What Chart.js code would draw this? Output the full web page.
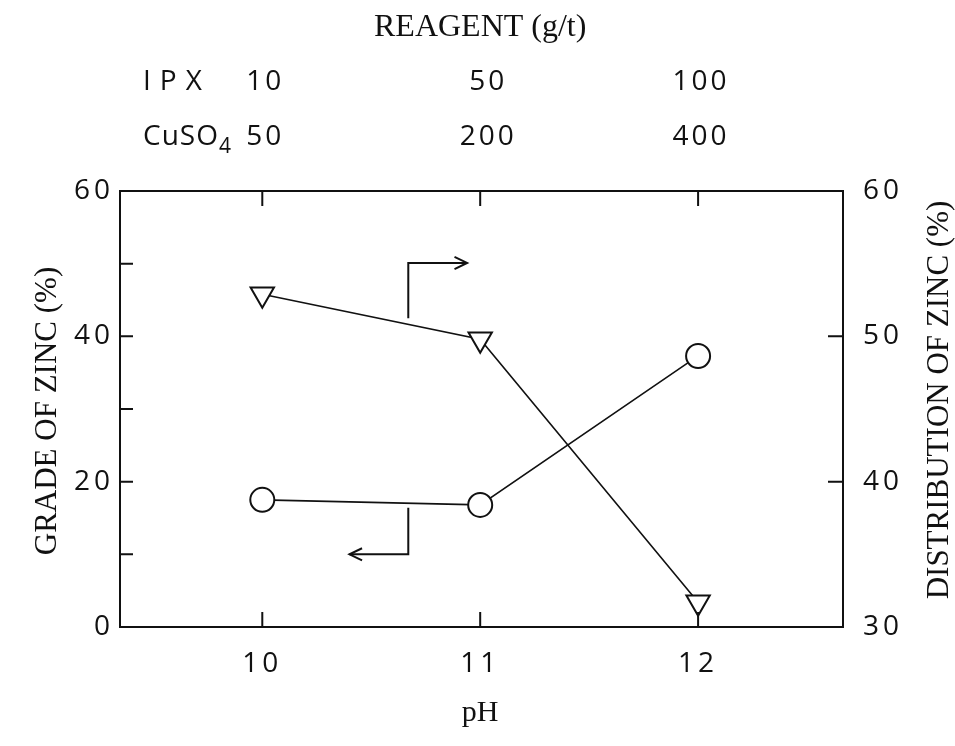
<!DOCTYPE html>
<html>
<head>
<meta charset="utf-8">
<script src="https://cdn.jsdelivr.net/npm/chart.js@4/dist/chart.umd.min.js"></script>
<style>
  html, body { margin: 0; padding: 0; background: #fff; }
  #wrap { width: 955px; height: 746px; }
</style>
</head>
<body>
<div id="wrap"><canvas id="zincChart"></canvas></div>
<script>
const phValues = [10, 11, 12];
const zincGrade = [17.5, 16.8, 37.3];          // left axis, %
const zincDistribution = [52.9, 49.8, 31.7];   // right axis, %
const ipxDose = ['10', '50', '100'];
const cuso4Dose = ['50', '200', '400'];
const gradeMinorTicks = [10, 20, 30, 40, 50];
const distMinorTicks = [40, 50];
// little pointers telling which axis a curve belongs to (pH, grade units)
const arrowUpX = [10.67, 10.67, 10.94];
const arrowUpY = [42.5, 50.1, 50.1];
const arrowDownX = [10.67, 10.67, 10.40];
const arrowDownY = [16.4, 10.0, 10.0];

const INK = '#111';
const SANS = '"Open Sans", "DejaVu Sans", sans-serif';
const SERIF = '"Liberation Serif", "DejaVu Serif", serif';

function pts(xs, ys) {
  return xs.map((x, i) => ({ x: x, y: ys[i] }));
}

const paperMarks = {
  id: 'paperMarks',
  beforeDraw(chart) {
    chart.ctx.letterSpacing = '4px';
  },
  afterDraw(chart) {
    const { ctx, chartArea: a, scales } = chart;
    ctx.save();
    ctx.letterSpacing = '0px';

    // inward tick marks
    ctx.strokeStyle = INK;
    ctx.lineWidth = 2;
    ctx.beginPath();
    gradeMinorTicks.forEach(v => {
      const y = scales.y.getPixelForValue(v);
      ctx.moveTo(a.left, y); ctx.lineTo(a.left + 13, y);
    });
    distMinorTicks.forEach(v => {
      const y = scales.y2.getPixelForValue(v);
      ctx.moveTo(a.right, y); ctx.lineTo(a.right - 15, y);
    });
    phValues.forEach(v => {
      const x = scales.x.getPixelForValue(v);
      ctx.moveTo(x, a.bottom); ctx.lineTo(x, a.bottom - 15);
      ctx.moveTo(x, a.top); ctx.lineTo(x, a.top + 15);
    });
    ctx.stroke();

    // open arrow heads at the end of the pointer paths
    chart.data.datasets.forEach((ds, i) => {
      if (!ds.arrowHead) return;
      const els = chart.getDatasetMeta(i).data;
      const p = els[els.length - 1], q = els[els.length - 2];
      const ang = Math.atan2(p.y - q.y, p.x - q.x);
      ctx.beginPath();
      ctx.moveTo(p.x - 14 * Math.cos(ang - 0.45), p.y - 14 * Math.sin(ang - 0.45));
      ctx.lineTo(p.x, p.y);
      ctx.lineTo(p.x - 14 * Math.cos(ang + 0.45), p.y - 14 * Math.sin(ang + 0.45));
      ctx.stroke();
    });

    ctx.fillStyle = INK;
    ctx.textBaseline = 'middle';

    // reagent header
    const xMid = scales.x.getPixelForValue(phValues[1]);
    ctx.font = '32px ' + SERIF;
    ctx.textAlign = 'center';
    ctx.fillText('REAGENT (g/t)', xMid, 28);

    ctx.font = '28px ' + SANS;
    ctx.letterSpacing = '3px';
    phValues.forEach((v, i) => {
      const x = scales.x.getPixelForValue(v) + (i === 1 ? 8 : 3);
      ctx.fillText(ipxDose[i], x, 82);
      ctx.fillText(cuso4Dose[i], x, 137);
    });
    ctx.textAlign = 'left';
    ctx.letterSpacing = '9px';
    ctx.fillText('IPX', 143, 82);
    ctx.letterSpacing = '1px';
    ctx.fillText('CuSO', 143, 137);
    const w = ctx.measureText('CuSO').width;
    ctx.font = '21px ' + SANS;
    ctx.fillText('4', 143 + w, 147);

    // axis titles
    ctx.letterSpacing = '0px';
    ctx.font = '30px ' + SERIF;
    ctx.textAlign = 'center';
    ctx.fillText('pH', xMid, 713);
    ctx.font = '31px ' + SERIF;
    ctx.save();
    ctx.translate(48, 411);
    ctx.rotate(-Math.PI / 2);
    ctx.fillText('GRADE OF ZINC (%)', 0, 0);
    ctx.restore();
    ctx.save();
    ctx.translate(940, 400);
    ctx.rotate(-Math.PI / 2);
    ctx.fillText('DISTRIBUTION OF ZINC (%)', 0, 0);
    ctx.restore();

    ctx.restore();
  }
};

const tickFont = { family: SANS, size: 28 };

new Chart(document.getElementById('zincChart'), {
  type: 'line',
  data: {
    datasets: [
      {
        label: 'Grade of zinc',
        data: pts(phValues, zincGrade),
        yAxisID: 'y',
        borderColor: INK,
        borderWidth: 1.6,
        pointStyle: 'circle',
        pointRadius: 12,
        pointBorderWidth: 2,
        pointBackgroundColor: '#fff',
        pointBorderColor: INK
      },
      {
        label: 'Distribution of zinc',
        data: pts(phValues, zincDistribution),
        yAxisID: 'y2',
        borderColor: INK,
        borderWidth: 1.6,
        pointStyle: 'triangle',
        pointRotation: 180,
        pointRadius: 13.5,
        pointBorderWidth: 2,
        pointBackgroundColor: '#fff',
        pointBorderColor: INK
      },
      {
        label: 'to right axis',
        data: pts(arrowUpX, arrowUpY),
        yAxisID: 'y',
        borderColor: INK,
        borderWidth: 2,
        pointRadius: 0,
        arrowHead: true
      },
      {
        label: 'to left axis',
        data: pts(arrowDownX, arrowDownY),
        yAxisID: 'y',
        borderColor: INK,
        borderWidth: 2,
        pointRadius: 0,
        arrowHead: true
      }
    ]
  },
  options: {
    responsive: true,
    maintainAspectRatio: false,
    animation: false,
    layout: { padding: 0 },
    plugins: { legend: { display: false }, tooltip: { enabled: false } },
    scales: {
      x: {
        type: 'linear',
        position: 'bottom',
        min: 9.347,
        max: 12.665,
        afterBuildTicks: s => { s.ticks = phValues.map(v => ({ value: v })); },
        afterFit: s => { s.height = 119; },
        grid: { display: false, drawTicks: false },
        border: { display: true, color: INK, width: 2 },
        ticks: { font: tickFont, color: INK, padding: 20 }
      },
      xTop: {
        type: 'linear',
        position: 'top',
        min: 9.347,
        max: 12.665,
        afterFit: s => { s.height = 191; },
        grid: { display: false, drawTicks: false },
        border: { display: true, color: INK, width: 2 },
        ticks: { display: false }
      },
      y: {
        type: 'linear',
        position: 'left',
        min: 0,
        max: 60,
        afterFit: s => { s.width = 120; },
        grid: { display: false, drawTicks: false },
        border: { display: true, color: INK, width: 2 },
        ticks: { stepSize: 20, font: tickFont, color: INK, padding: 6 }
      },
      y2: {
        type: 'linear',
        position: 'right',
        min: 30,
        max: 60,
        afterFit: s => { s.width = 112; },
        grid: { display: false, drawTicks: false },
        border: { display: true, color: INK, width: 2 },
        ticks: { stepSize: 10, font: tickFont, color: INK, padding: 20 }
      }
    }
  },
  plugins: [paperMarks]
});
</script>
</body>
</html>
